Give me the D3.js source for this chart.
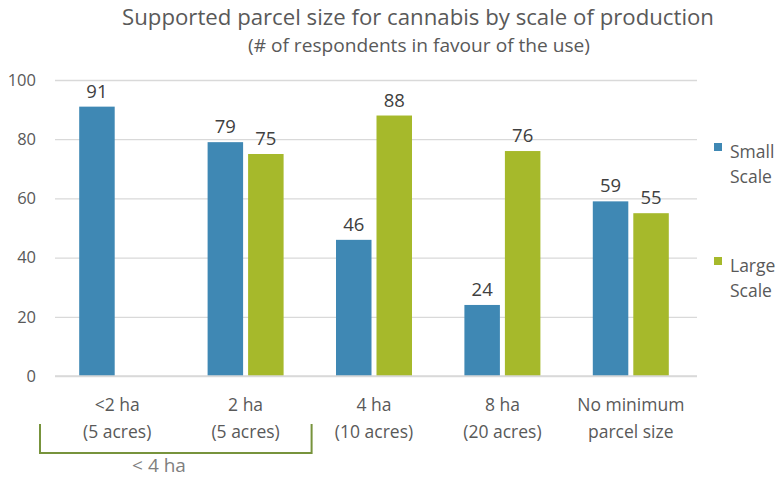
<!DOCTYPE html>
<html><head><meta charset="utf-8">
<script src="https://cdn.jsdelivr.net/npm/d3@7"></script>
<style>body{margin:0;background:#fff}svg{display:block}text{font-family:"Open Sans","Noto Sans",sans-serif}</style>
</head><body><svg id="c" width="779" height="478"></svg>
<script>
const categories = [["<2 ha","(5 acres)"],["2 ha","(5 acres)"],["4 ha","(10 acres)"],["8 ha","(20 acres)"],["No minimum","parcel size"]];
const smallScale = [91,79,46,24,59];
const largeScale = [null,75,88,76,55];
const seriesNames = [["Small","Scale"],["Large","Scale"]];
const yTicks = [0,20,40,60,80,100];
const colors = ["#3F88B4","#A6B92B"];

const svg = d3.select("#c");
const x = d3.scaleBand().domain(d3.range(categories.length)).range([55,697]);
const y = d3.scaleLinear().domain([0,100]).range([376,80]);

svg.append("text").attr("x",418).attr("y",25).attr("text-anchor","middle").attr("fill","#595959").attr("font-size",21.5).attr("textLength",592).attr("lengthAdjust","spacingAndGlyphs").text("Supported parcel size for cannabis by scale of production");
svg.append("text").attr("x",419).attr("y",52).attr("text-anchor","middle").attr("fill","#595959").attr("font-size",17.5).attr("textLength",342).attr("lengthAdjust","spacingAndGlyphs").text("(# of respondents in favour of the use)");

const yAxis = d3.axisLeft(y).tickValues(yTicks).tickSize(-(697-55)).tickPadding(19);
const gy = svg.append("g").attr("transform","translate(55,0)").call(yAxis);
gy.select(".domain").remove();
gy.selectAll(".tick line").attr("stroke","#d9d9d9").attr("stroke-width",1.3);
gy.selectAll(".tick text").attr("fill","#595959").attr("font-size",16.5).attr("font-family","'Open Sans',sans-serif");

const bw = 35.5;
const series = [smallScale, largeScale];
series.forEach((vals,si)=>{
  const off = si===0 ? -40 : 0.5;
  const g = svg.append("g");
  vals.forEach((v,i)=>{
    if(v==null) return;
    const cx = x(i)+x.bandwidth()/2;
    g.append("rect").attr("x",cx+off).attr("width",bw).attr("y",y(v)).attr("height",y(0)-y(v)).attr("fill",colors[si]);
    g.append("text").attr("x",cx+off+bw/2).attr("y",y(v)-9).attr("text-anchor","middle").attr("fill","#404040").attr("font-size",18.5).text(v);
  });
});
svg.append("line").attr("x1",55).attr("x2",697).attr("y1",y(0)).attr("y2",y(0)).attr("stroke","#d9d9d9").attr("stroke-width",1.3);

categories.forEach((c,i)=>{
  const cx = x(i)+x.bandwidth()/2 - 2;
  c.forEach((t,j)=>{
    svg.append("text").attr("x",cx).attr("y",411+j*27).attr("text-anchor","middle").attr("fill","#595959").attr("font-size",17.5).text(t);
  });
});

const bx1 = x(0)-15, bx2 = x(1)+x.bandwidth()/2+64;
svg.append("path").attr("d",`M${bx1},424V453H${bx2}V424`).attr("fill","none").attr("stroke","#77933C").attr("stroke-width",2);
svg.append("text").attr("x",159).attr("y",472).attr("text-anchor","middle").attr("fill","#7f7f7f").attr("font-size",19).text("< 4 ha");

seriesNames.forEach((n,i)=>{
  const ly = 143 + i*114;
  svg.append("rect").attr("x",714).attr("y",ly).attr("width",8).attr("height",8).attr("fill",colors[i]);
  n.forEach((t,j)=>{
    svg.append("text").attr("x",730).attr("y",ly+15+j*25).attr("fill","#595959").attr("font-size",17.5).text(t);
  });
});
</script></body></html>
